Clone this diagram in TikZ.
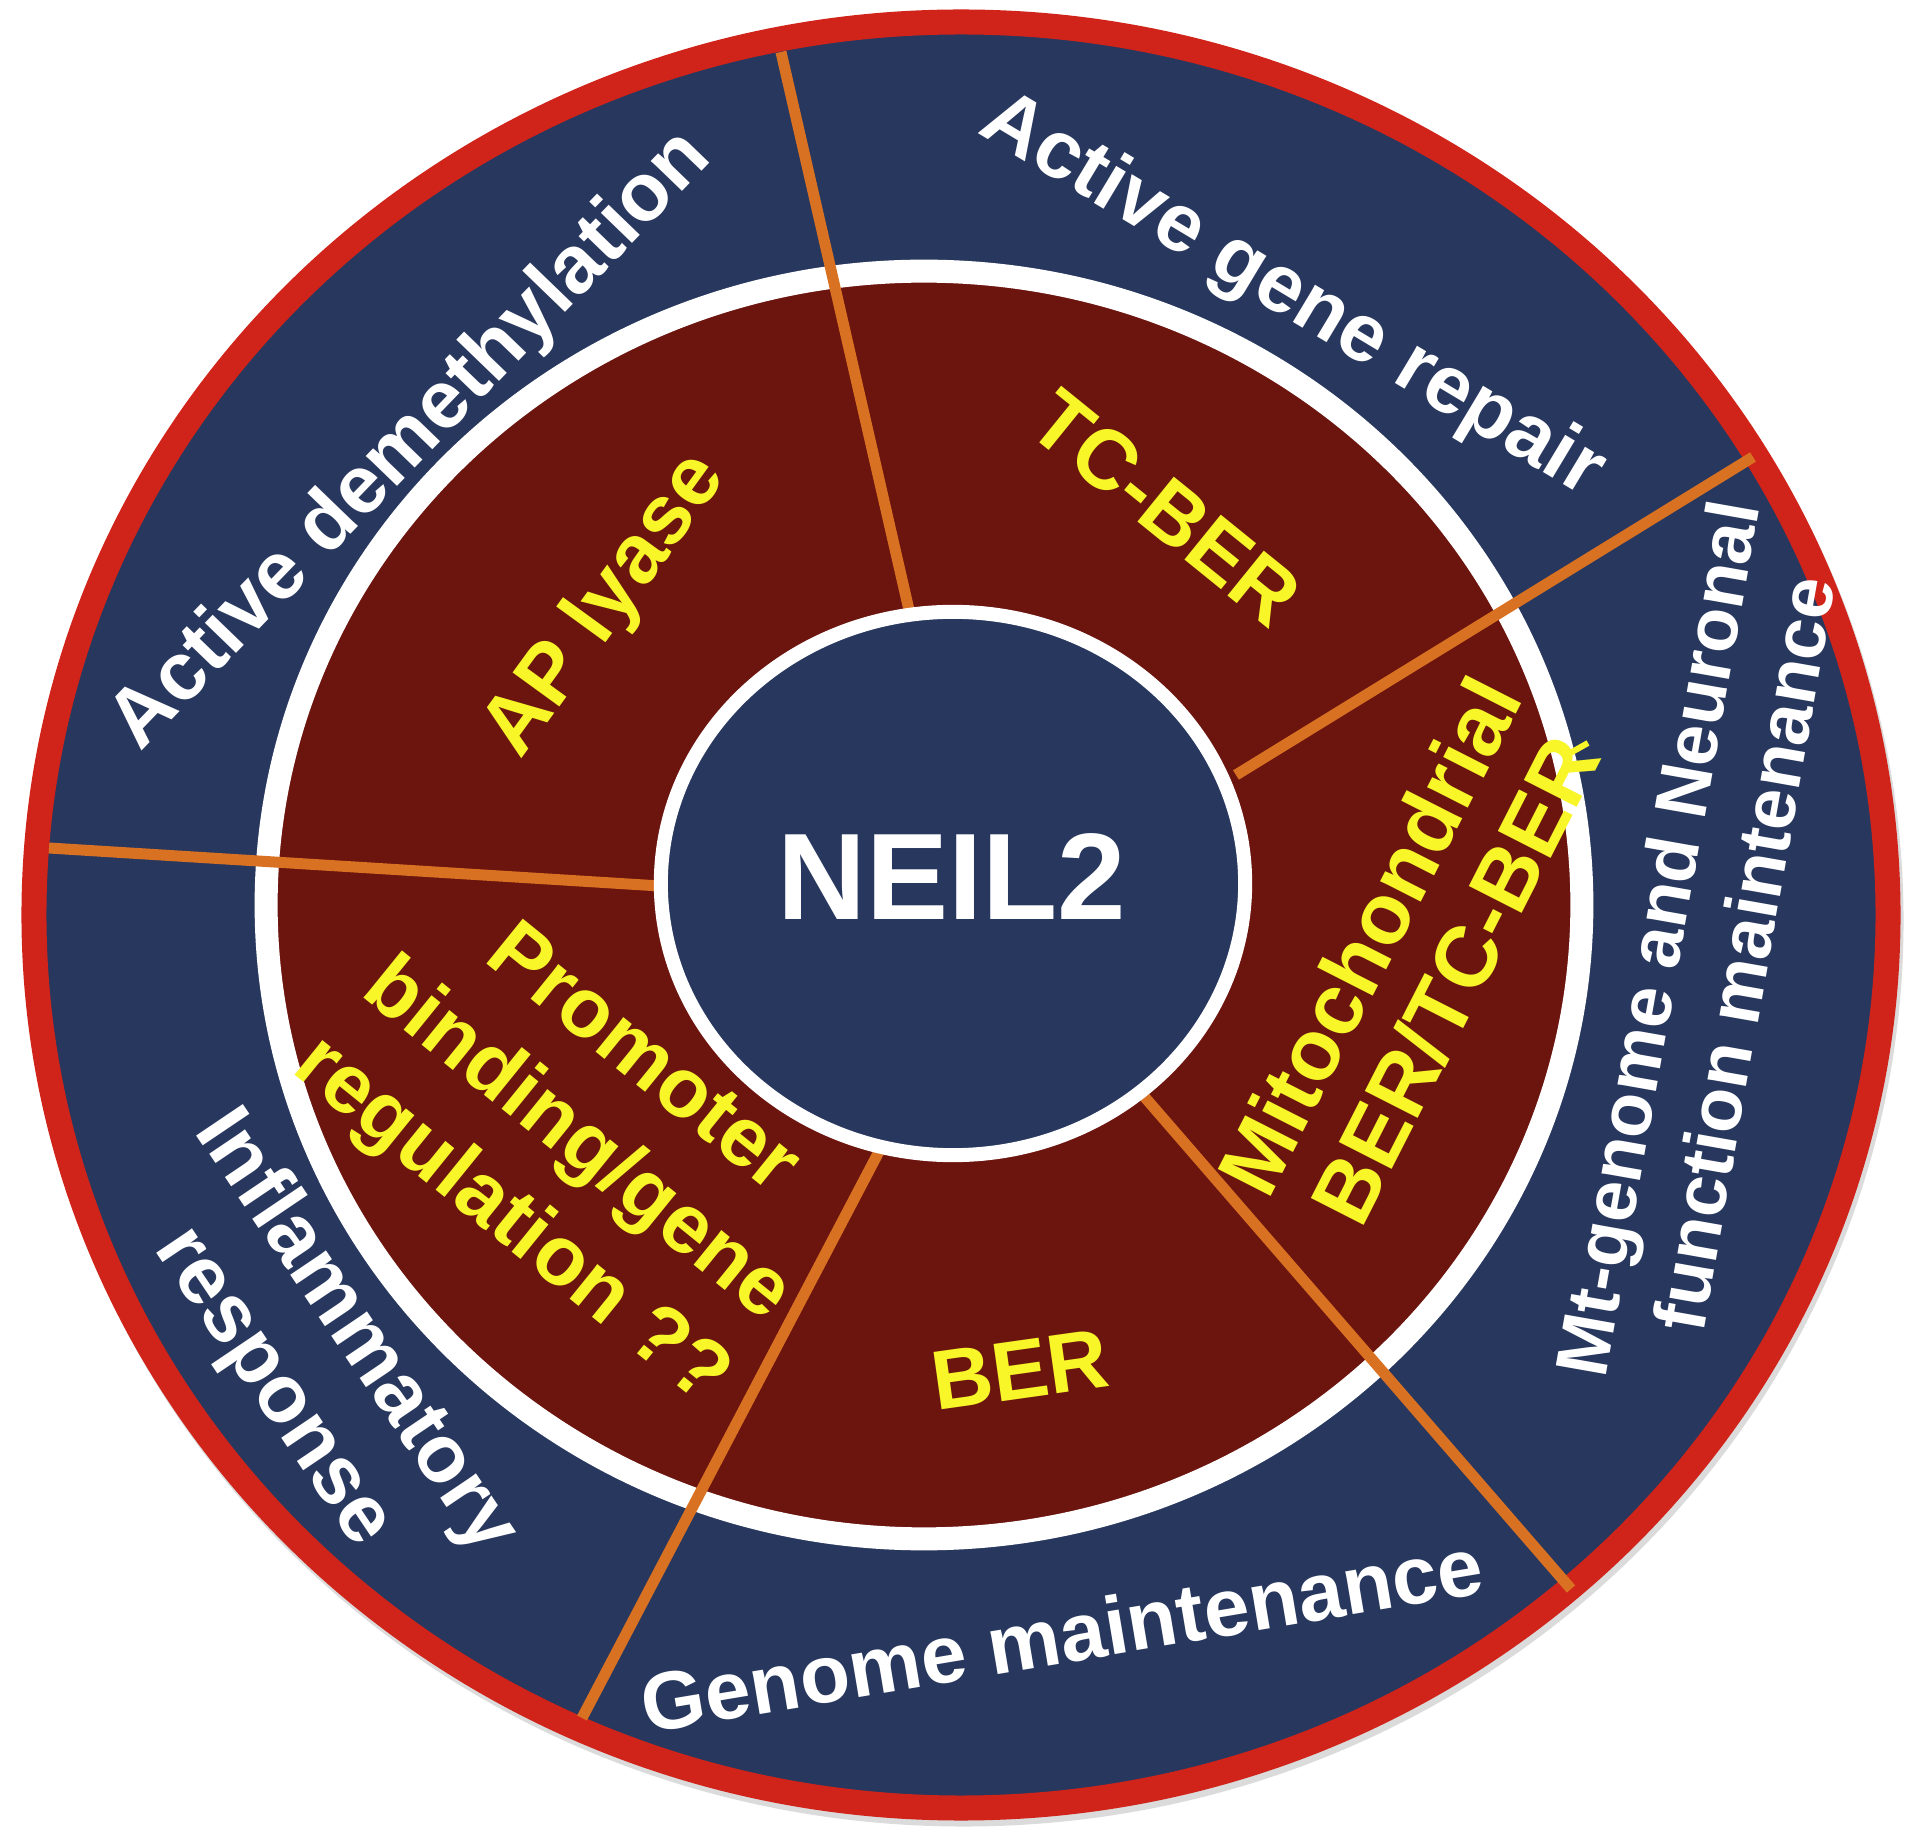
\documentclass[tikz,border=0pt]{standalone}
\usepackage{fontspec}
\setmainfont{Liberation Sans}
\definecolor{navy}{RGB}{40,55,94}
\definecolor{maroon}{RGB}{108,20,14}
\definecolor{redring}{RGB}{208,36,26}
\definecolor{orangeline}{RGB}{217,113,34}
\definecolor{yellowtxt}{RGB}{248,245,40}
\begin{document}
\begin{tikzpicture}[x=0.01cm,y=-0.01cm,
  divider/.style={draw=orangeline,line width=0.11cm},
  whitetxt/.style={text=white,font=\bfseries\fontsize{23.3pt}{28pt}\selectfont,inner sep=0pt,align=center},
  smallwhite/.style={text=white,font=\bfseries\fontsize{21pt}{25pt}\selectfont,inner sep=0pt,align=center},
  yellowlabel/.style={text=yellowtxt,font=\bfseries\fontsize{23.9pt}{29.6pt}\selectfont,inner sep=0pt,align=center},
  bigyellow/.style={text=yellowtxt,font=\bfseries\fontsize{24.5pt}{27.3pt}\selectfont,inner sep=0pt,align=center},
  centretxt/.style={text=white,font=\bfseries\fontsize{35pt}{40pt}\selectfont,inner sep=0pt}]
\useasboundingbox (0,0) rectangle (1920,1846);
\fill[white] (0,0) rectangle (1920,1846);
% outer ring
\fill[black!14] (964,921) ellipse [x radius=9.39cm,y radius=9.05cm];
\filldraw[fill=navy,draw=redring,line width=0.25cm] (961,915) ellipse [x radius=9.265cm,y radius=8.925cm];
% white ring and maroon disc
\filldraw[fill=maroon,draw=white,line width=0.23cm] (924,905) ellipse [x radius=6.575cm,y radius=6.335cm];
% divider lines
\coordinate (d1a) at (909,610);  \coordinate (d1b) at (781,52);
\coordinate (d2a) at (1236,775); \coordinate (d2b) at (1753,457);
\coordinate (d3a) at (660,886);  \coordinate (d3b) at (49,848);
\coordinate (d4a) at (1142,1094); \coordinate (d4b) at (1571,1589);
\coordinate (d5a) at (884,1142); \coordinate (d5b) at (582,1718);
\draw[divider] (d1a) -- (d1b);
\draw[divider] (d2a) -- (d2b);
\draw[divider] (d3a) -- (d3b);
\draw[divider] (d4a) -- (d4b);
\draw[divider] (d5a) -- (d5b);
% centre disc
\filldraw[fill=navy,draw=white,line width=0.14cm] (953,883.5) ellipse [x radius=2.92cm,y radius=2.715cm];
\node[centretxt] (neil2) at (952,877) {NEIL2};
% inner labels
\node[yellowlabel,rotate=54] (aplyase) at (606,606) {AP lyase};
\node[yellowlabel,rotate=-39] (tcber) at (1166,508) {TC-BER};
\node[bigyellow,rotate=63] (mito) at (1412,958) {Mitochondrial\\BER/TC-BER};
\node[yellowlabel,rotate=8] (ber) at (1020,1370) {BER};
\node[yellowlabel,rotate=-39] (promoter) at (575,1143) {Promoter\\binding/gene\\regulation ??};
\coordinate (dasha) at (1563,757); \coordinate (dashb) at (1588,743);
\draw[yellowtxt,line width=0.06cm] (dasha) -- (dashb);
% outer labels
\node[whitetxt,rotate=46] (demeth) at (412,441) {Active demethylation};
\node[whitetxt,rotate=-31] (generepair) at (1292,297) {Active gene repair};
\node[smallwhite,rotate=80] (mtgenome) at (1700,946) {Mt-genome and Neuronal\\function maintenance};
\node[whitetxt,rotate=-56] (inflam) at (314,1360) {Inflammatory\\response};
\node[whitetxt,rotate=9.5] (genome) at (1062,1634) {Genome maintenance};
\end{tikzpicture}
\end{document}
